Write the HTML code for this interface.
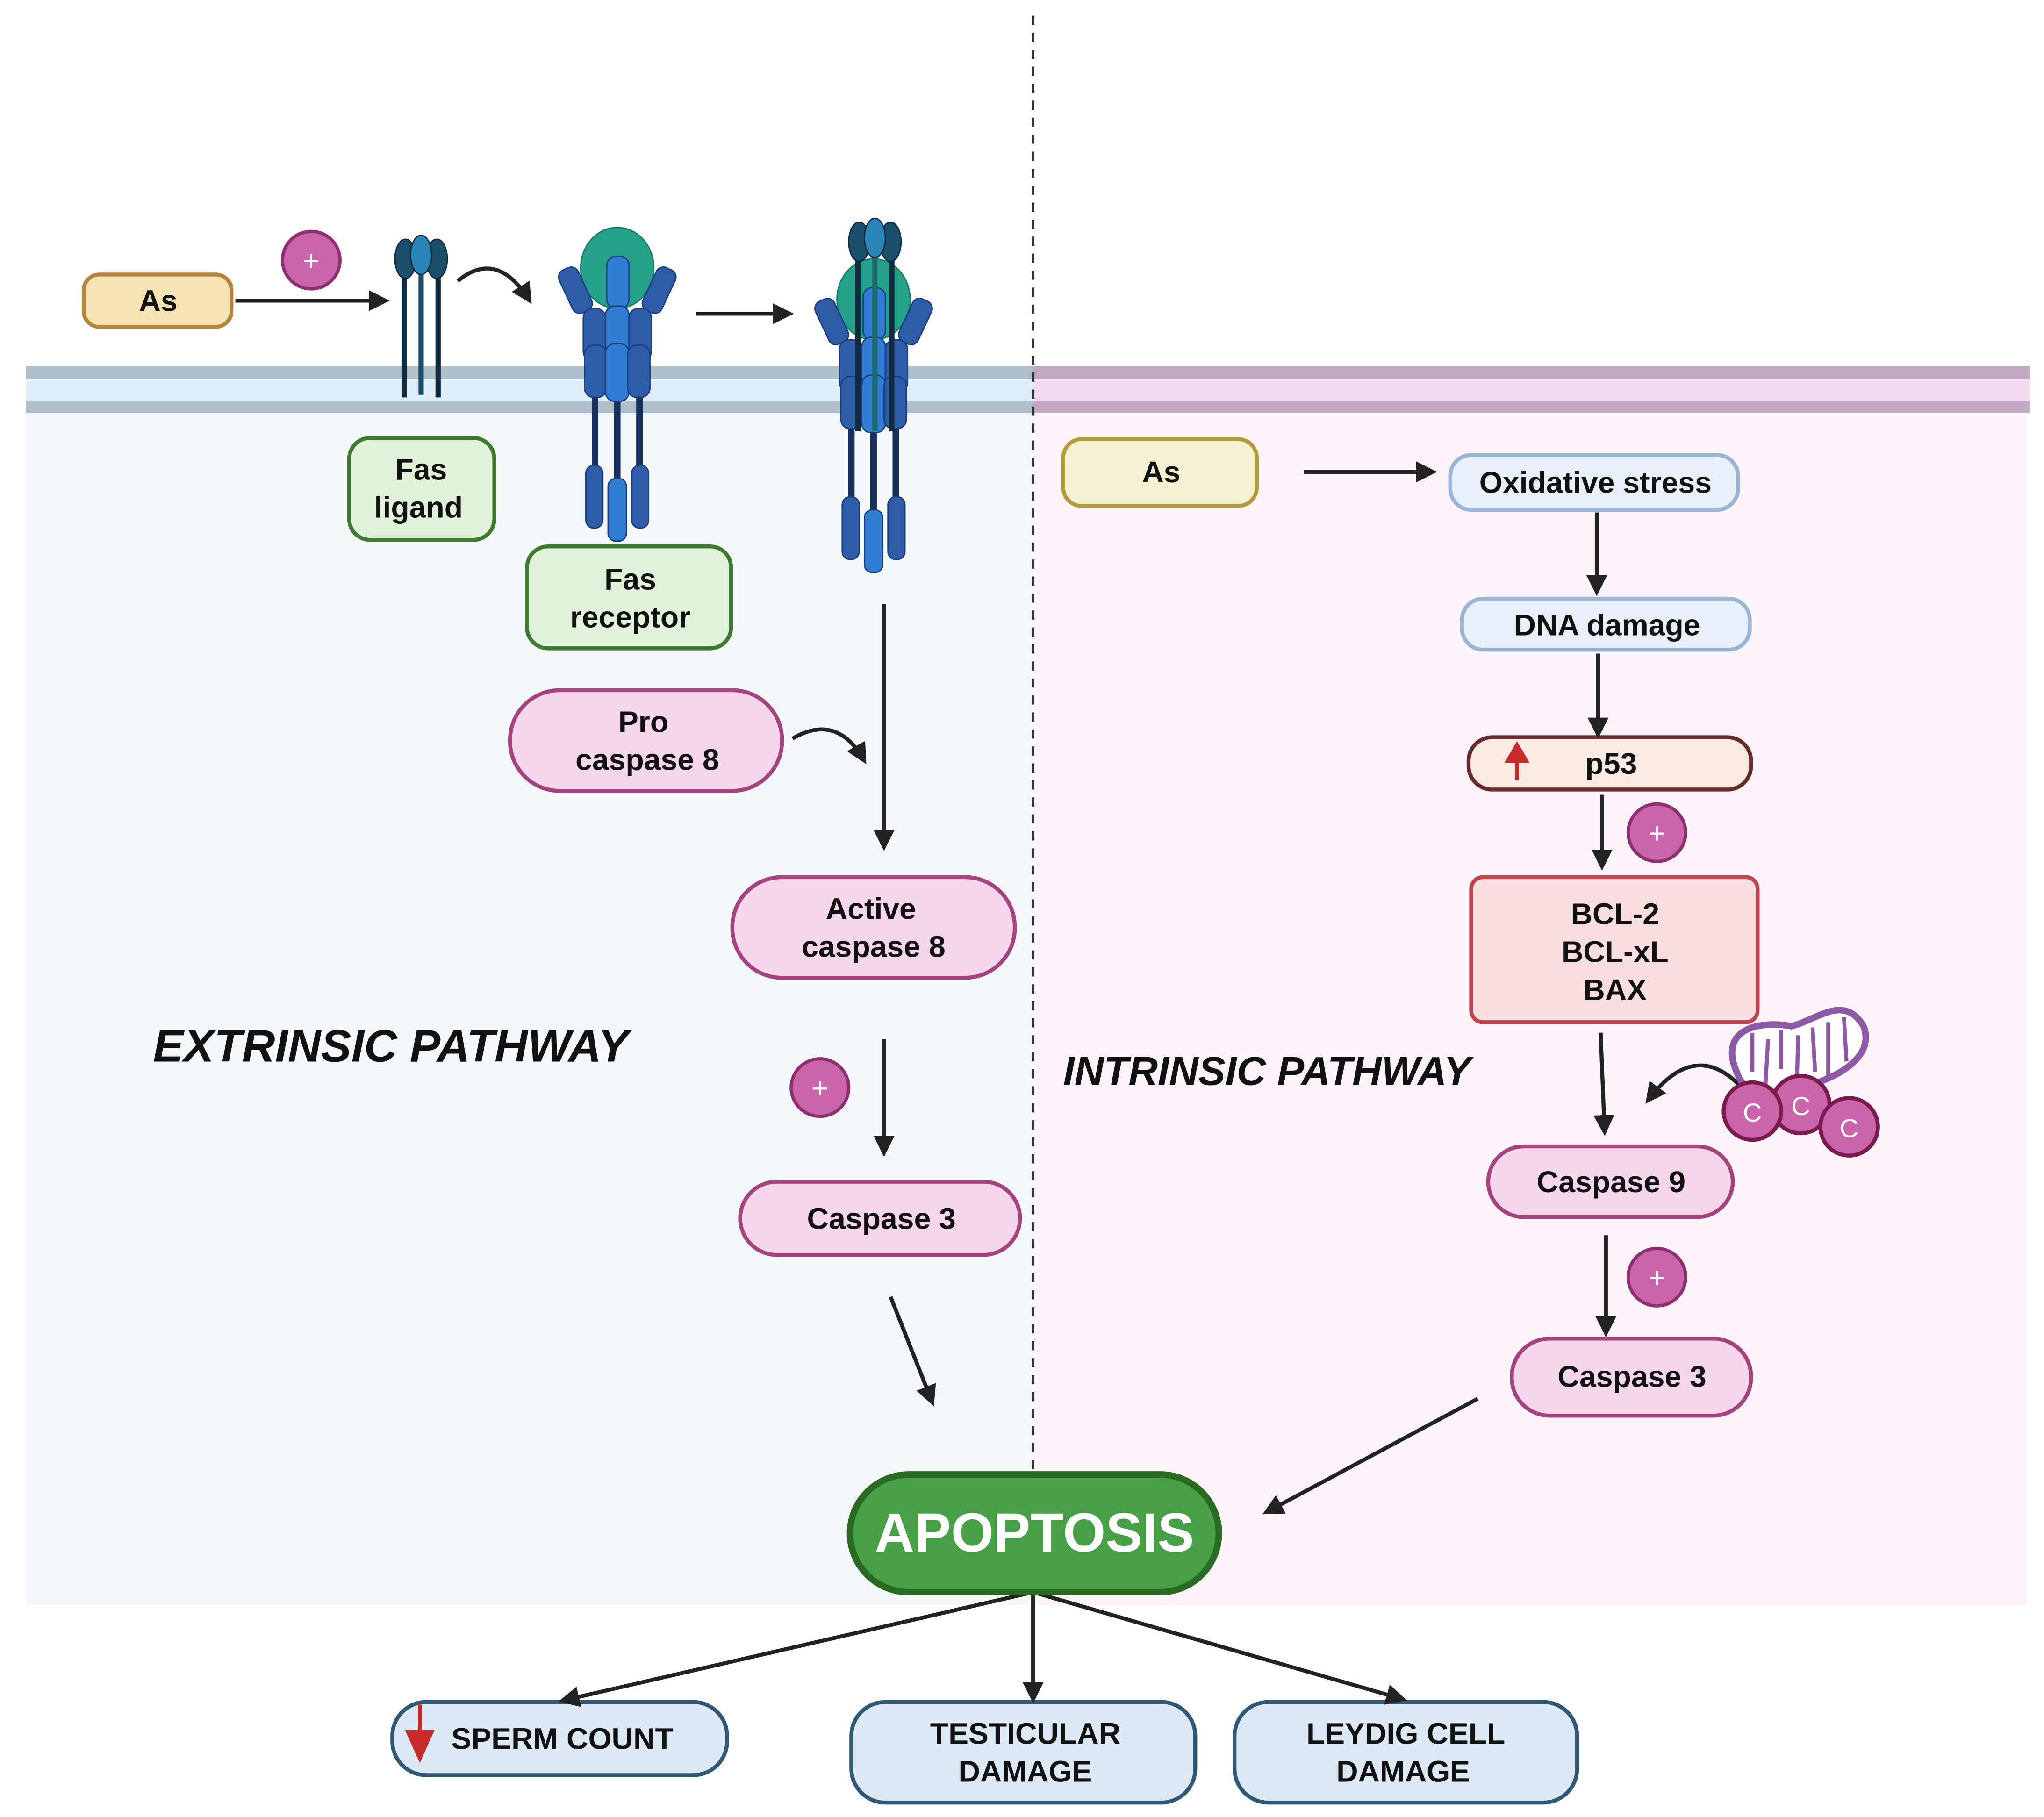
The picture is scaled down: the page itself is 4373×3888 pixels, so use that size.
<!DOCTYPE html>
<html><head><meta charset="utf-8"><style>html,body{margin:0;padding:0;background:#fff}svg{display:block}</style></head><body>
<svg xmlns="http://www.w3.org/2000/svg" width="4373" height="3888" viewBox="0 0 1563 1390" preserveAspectRatio="none" font-family="Liberation Sans, sans-serif">
<defs>
<marker id="ah" markerWidth="10" markerHeight="10" refX="8" refY="5" orient="auto" markerUnits="userSpaceOnUse"><path d="M0,0 L10,5 L0,10 Z" fill="#222"/></marker>
<marker id="ah2" markerWidth="16" markerHeight="16" refX="13" refY="8" orient="auto" markerUnits="userSpaceOnUse"><path d="M0,0 L16,8 L0,16 Z" fill="#222"/></marker>
<g id="rec">
  <line x1="-17" y1="300" x2="-17" y2="370" stroke="#17305e" stroke-width="5"/>
  <line x1="0" y1="300" x2="0" y2="370" stroke="#17305e" stroke-width="5"/>
  <line x1="17" y1="300" x2="17" y2="370" stroke="#17305e" stroke-width="5"/>
  <rect x="-24" y="356" width="13" height="48" rx="6" fill="#2d5ca8" stroke="#1c3c7a"/>
  <rect x="11" y="356" width="13" height="48" rx="6" fill="#2d5ca8" stroke="#1c3c7a"/>
  <rect x="-7" y="366" width="14" height="48" rx="6" fill="#2f7ed4" stroke="#1c3c7a"/>
  <ellipse cx="0" cy="205" rx="28" ry="31" fill="#25a08a" stroke="#1c7a68"/>
  <rect x="-8" y="196" width="17" height="40" rx="7" fill="#2f7ed4" stroke="#1c3c7a"/>
  <rect x="-40" y="204" width="16" height="36" rx="6" fill="#2d5ca8" stroke="#1c3c7a" transform="rotate(-25 -32 222)"/>
  <rect x="24" y="204" width="16" height="36" rx="6" fill="#2d5ca8" stroke="#1c3c7a" transform="rotate(25 32 222)"/>
  <rect x="-26" y="236" width="17" height="40" rx="7" fill="#2d5ca8" stroke="#1c3c7a"/>
  <rect x="-9" y="234" width="18" height="42" rx="7" fill="#2f7ed4" stroke="#1c3c7a"/>
  <rect x="9" y="236" width="17" height="40" rx="7" fill="#2d5ca8" stroke="#1c3c7a"/>
  <rect x="-25" y="264" width="17" height="40" rx="7" fill="#2d5ca8" stroke="#1c3c7a"/>
  <rect x="-9" y="263" width="18" height="44" rx="7" fill="#2f7ed4" stroke="#1c3c7a"/>
  <rect x="8" y="264" width="17" height="40" rx="7" fill="#2d5ca8" stroke="#1c3c7a"/>
</g>
</defs>
<rect width="1563" height="1390" fill="#fff"/>
<rect x="20" y="316" width="770" height="912" fill="#f5f9fe"/>
<rect x="790" y="316" width="760" height="912" fill="#fdf5fb"/>
<rect x="20" y="280" width="770" height="10" fill="#aebfcc"/>
<rect x="20" y="290" width="770" height="17" fill="#deeffb"/>
<rect x="20" y="307" width="770" height="9" fill="#aebfcc"/>
<rect x="790" y="280" width="762" height="10" fill="#c5a8c3"/>
<rect x="790" y="290" width="762" height="17" fill="#f3daf0"/>
<rect x="790" y="307" width="762" height="9" fill="#c5a8c3"/>
<line x1="790" y1="12" x2="790" y2="1125" stroke="#333" stroke-width="2" stroke-dasharray="7,6"/>

<!-- ligand -->
<g stroke="#0f2a3e" stroke-width="4"><line x1="309" y1="205" x2="309" y2="304"/><line x1="335" y1="205" x2="335" y2="304"/></g>
<line x1="322" y1="205" x2="322" y2="302" stroke="#1d4e6a" stroke-width="4"/>
<ellipse cx="310" cy="198" rx="8" ry="15" fill="#1a4f6c" stroke="#0f2a3e"/>
<ellipse cx="334" cy="198" rx="8" ry="15" fill="#1a4f6c" stroke="#0f2a3e"/>
<ellipse cx="322" cy="195" rx="8" ry="15" fill="#2a84b8" stroke="#0f2a3e"/>
<use href="#rec" transform="translate(472,0)"/>
<use href="#rec" transform="translate(668,24)"/>
<g stroke="#0f2a3e" stroke-width="4"><line x1="656" y1="190" x2="656" y2="330"/><line x1="682" y1="190" x2="682" y2="330"/></g>
<line x1="669" y1="190" x2="669" y2="330" stroke="#1d6a6a" stroke-width="4"/>
<ellipse cx="657" cy="185" rx="8" ry="15" fill="#1a4f6c" stroke="#0f2a3e"/>
<ellipse cx="681" cy="185" rx="8" ry="15" fill="#1a4f6c" stroke="#0f2a3e"/>
<ellipse cx="669" cy="182" rx="8" ry="15" fill="#2a84b8" stroke="#0f2a3e"/>

<!-- left arrows -->
<line x1="180" y1="230" x2="295" y2="230" stroke="#222" stroke-width="3" marker-end="url(#ah2)"/>
<path d="M350,215 Q380,190 405,230" fill="none" stroke="#222" stroke-width="3" marker-end="url(#ah2)"/>
<line x1="532" y1="240" x2="604" y2="240" stroke="#222" stroke-width="3" marker-end="url(#ah2)"/>
<path d="M606,565 Q640,545 661,582" fill="none" stroke="#222" stroke-width="3" marker-end="url(#ah2)"/>
<line x1="676" y1="462" x2="676" y2="648" stroke="#222" stroke-width="3" marker-end="url(#ah2)"/>
<line x1="676" y1="795" x2="676" y2="882" stroke="#222" stroke-width="3" marker-end="url(#ah2)"/>
<line x1="681" y1="992" x2="713" y2="1073" stroke="#222" stroke-width="3" marker-end="url(#ah2)"/>

<g font-weight="bold" font-size="23" text-anchor="middle" fill="#111">
<rect x="64" y="210" width="113" height="40" rx="12" fill="#f5e3b5" stroke="#b5843a" stroke-width="3"/>
<text x="121" y="238">As</text>
<rect x="267" y="335" width="111" height="78" rx="16" fill="#e1f4d9" stroke="#3e7a2f" stroke-width="3"/>
<text x="322" y="367">Fas</text><text x="320" y="396">ligand</text>
<rect x="403" y="418" width="156" height="78" rx="16" fill="#e1f4d9" stroke="#3e7a2f" stroke-width="3"/>
<text x="482" y="451">Fas</text><text x="482" y="480">receptor</text>
<rect x="390" y="528" width="208" height="77" rx="38" fill="#f6d6eb" stroke="#a5437e" stroke-width="3"/>
<text x="492" y="560">Pro</text><text x="495" y="589">caspase 8</text>
<rect x="560" y="671" width="216" height="77" rx="38" fill="#f6d6eb" stroke="#a5437e" stroke-width="3"/>
<text x="666" y="703">Active</text><text x="668" y="732">caspase 8</text>
<rect x="566" y="904" width="214" height="56" rx="28" fill="#f6d6eb" stroke="#a5437e" stroke-width="3"/>
<text x="674" y="940">Caspase 3</text>

<rect x="813" y="336" width="148" height="51" rx="14" fill="#f5f2d4" stroke="#b59a3a" stroke-width="3"/>
<text x="888" y="369">As</text>
<rect x="1109" y="348" width="220" height="42" rx="16" fill="#e8f0fa" stroke="#9bb5d8" stroke-width="3"/>
<text x="1220" y="377">Oxidative stress</text>
<rect x="1118" y="458" width="220" height="39" rx="16" fill="#e8f0fa" stroke="#9bb5d8" stroke-width="3"/>
<text x="1229" y="486">DNA damage</text>
<rect x="1123" y="564" width="216" height="40" rx="18" fill="#faeae4" stroke="#6a2a2a" stroke-width="3"/>
<text x="1232" y="592">p53</text>
<rect x="1125" y="671" width="219" height="111" rx="9" fill="#f9dee0" stroke="#c0444f" stroke-width="3"/>
<text x="1235" y="707">BCL-2</text><text x="1235" y="736">BCL-xL</text><text x="1235" y="765">BAX</text>
<rect x="1138" y="877" width="187" height="54" rx="27" fill="#f6d6eb" stroke="#a5437e" stroke-width="3"/>
<text x="1232" y="912">Caspase 9</text>
<rect x="1156" y="1024" width="183" height="59" rx="29" fill="#f6d6eb" stroke="#a5437e" stroke-width="3"/>
<text x="1248" y="1061">Caspase 3</text>

<rect x="300" y="1302" width="256" height="56" rx="26" fill="#dde9f5" stroke="#2e5876" stroke-width="3"/>
<text x="430" y="1338">SPERM COUNT</text>
<rect x="651" y="1302" width="263" height="77" rx="26" fill="#dde9f5" stroke="#2e5876" stroke-width="3"/>
<text x="784" y="1334">TESTICULAR</text><text x="784" y="1363">DAMAGE</text>
<rect x="944" y="1302" width="262" height="77" rx="26" fill="#dde9f5" stroke="#2e5876" stroke-width="3"/>
<text x="1075" y="1334">LEYDIG CELL</text><text x="1073" y="1363">DAMAGE</text>
</g>
<path d="M321,1304 L321,1325 L312,1325 L321,1345 L330,1325 L321,1325" fill="#c62a2a" stroke="#c62a2a" stroke-width="3"/>
<path d="M1160,597 L1160,580 M1153,582 L1160,570 L1167,582 Z" fill="#c62a2a" stroke="#c62a2a" stroke-width="3"/>

<!-- right arrows -->
<line x1="997" y1="361" x2="1096" y2="361" stroke="#222" stroke-width="3" marker-end="url(#ah2)"/>
<line x1="1221" y1="392" x2="1221" y2="453" stroke="#222" stroke-width="3" marker-end="url(#ah2)"/>
<line x1="1222" y1="500" x2="1222" y2="562" stroke="#222" stroke-width="3" marker-end="url(#ah2)"/>
<line x1="1225" y1="608" x2="1225" y2="663" stroke="#222" stroke-width="3" marker-end="url(#ah2)"/>
<line x1="1224" y1="790" x2="1227" y2="866" stroke="#222" stroke-width="3" marker-end="url(#ah2)"/>
<path d="M1330,830 Q1295,795 1260,842" fill="none" stroke="#222" stroke-width="3" marker-end="url(#ah2)"/>
<line x1="1228" y1="945" x2="1228" y2="1020" stroke="#222" stroke-width="3" marker-end="url(#ah2)"/>
<line x1="1130" y1="1070" x2="968" y2="1157" stroke="#222" stroke-width="3" marker-end="url(#ah2)"/>
<line x1="790" y1="1218" x2="430" y2="1301" stroke="#222" stroke-width="3" marker-end="url(#ah2)"/>
<line x1="790" y1="1218" x2="790" y2="1300" stroke="#222" stroke-width="3" marker-end="url(#ah2)"/>
<line x1="790" y1="1218" x2="1073" y2="1300" stroke="#222" stroke-width="3" marker-end="url(#ah2)"/>

<!-- mitochondrion -->
<path d="M1328,820 C1315,790 1340,780 1370,785 C1390,780 1410,760 1425,785 C1435,810 1400,830 1360,835 C1340,838 1332,832 1328,820 Z" fill="#fff" stroke="#8e5aa8" stroke-width="5"/>
<g stroke="#8e5aa8" stroke-width="3"><line x1="1340" y1="790" x2="1340" y2="820"/><line x1="1350" y1="830" x2="1352" y2="795"/><line x1="1362" y1="788" x2="1362" y2="818"/><line x1="1374" y1="830" x2="1375" y2="792"/><line x1="1386" y1="786" x2="1388" y2="820"/><line x1="1398" y1="825" x2="1398" y2="782"/><line x1="1410" y1="778" x2="1412" y2="812"/></g>
<g fill="#c965a8" stroke="#7a1a4e" stroke-width="3" >
<circle cx="1377" cy="845" r="22"/><circle cx="1340" cy="850" r="22"/><circle cx="1414" cy="862" r="22"/></g>
<g fill="#fff" font-size="20" text-anchor="middle"><text x="1340" y="858">C</text><text x="1377" y="853">C</text><text x="1414" y="870">C</text></g>

<!-- plus circles -->
<g fill="#c965a8" stroke="#8e2f70" stroke-width="2.5">
<circle cx="238" cy="199" r="22"/><circle cx="627" cy="832" r="22"/><circle cx="1267" cy="637" r="22"/><circle cx="1267" cy="977" r="22"/></g>
<g fill="#fff" font-size="22" text-anchor="middle"><text x="238" y="207">+</text><text x="627" y="840">+</text><text x="1267" y="645">+</text><text x="1267" y="985">+</text></g>

<text x="117" y="812" font-size="35" font-weight="bold" font-style="italic" fill="#111">EXTRINSIC PATHWAY</text>
<text x="813" y="830" font-size="31" font-weight="bold" font-style="italic" fill="#111">INTRINSIC PATHWAY</text>

<rect x="650" y="1128" width="282" height="90" rx="45" fill="#47a046" stroke="#2a6a22" stroke-width="5"/>
<text x="791" y="1187" font-size="42" font-weight="bold" fill="#fff" text-anchor="middle">APOPTOSIS</text>
</svg>
</body></html>
